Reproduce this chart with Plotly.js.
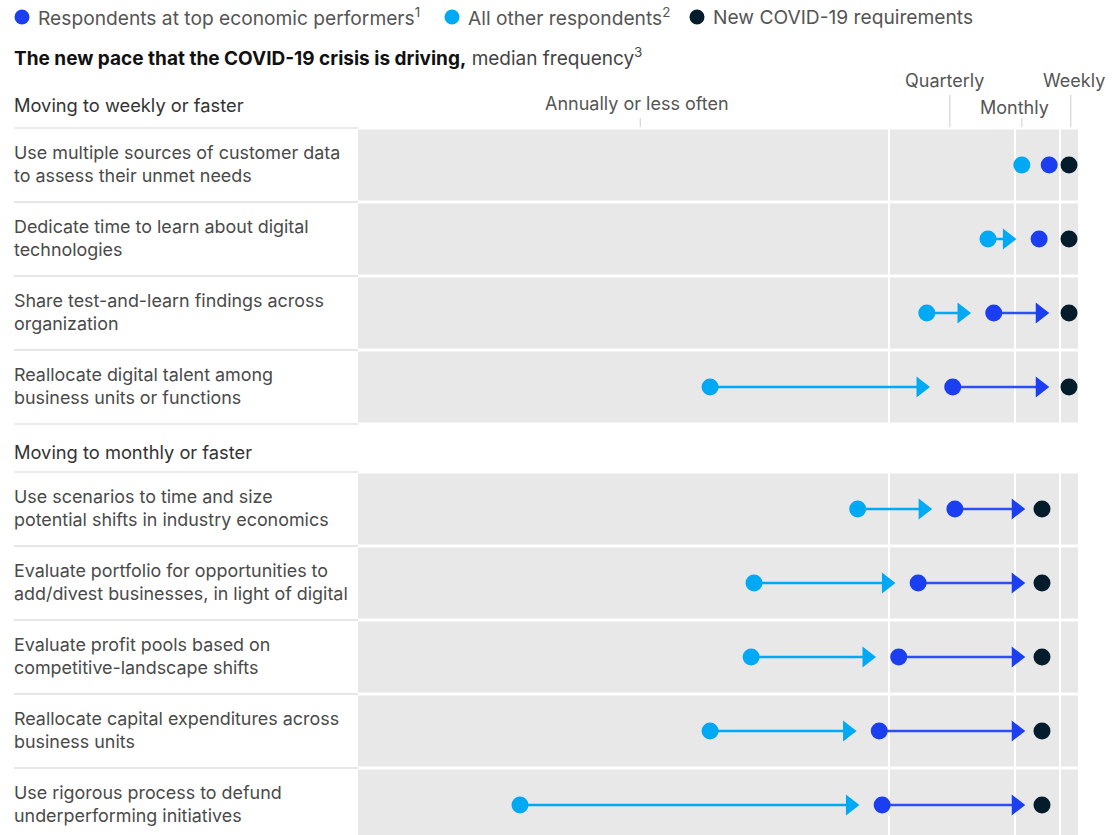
<!DOCTYPE html>
<html><head><meta charset="utf-8">
<script src="https://cdn.plot.ly/plotly-3.0.1.min.js"></script>
<style>html,body{margin:0;padding:0;background:#fff}</style>
</head><body><div id="chart" style="width:1112px;height:835px"></div>
<script>
// ---------------- data ----------------
const sectionTitles = ["Moving to weekly or faster", "Moving to monthly or faster"];
const categories = [
  "Use multiple sources of customer data<br>to assess their unmet needs",
  "Dedicate time to learn about digital<br>technologies",
  "Share test-and-learn findings across<br>organization",
  "Reallocate digital talent among<br>business units or functions",
  "Use scenarios to time and size<br>potential shifts in industry economics",
  "Evaluate portfolio for opportunities to<br>add/divest businesses, in light of digital",
  "Evaluate profit pools based on<br>competitive-landscape shifts",
  "Reallocate capital expenditures across<br>business units",
  "Use rigorous process to defund<br>underperforming initiatives"
];
const sectionOf = [0, 0, 0, 0, 1, 1, 1, 1, 1];
// frequency position (0 = left edge of panel, 100 = right edge)
const allOther = [92.2, 87.5, 79.0, 48.9, 69.4, 55.0, 54.6, 48.9, 22.5];
const topPerf  = [96.0, 94.6, 88.3, 82.6, 82.9, 77.8, 75.1, 72.4, 72.8];
const covidReq = [98.75, 98.75, 98.75, 98.75, 95.0, 95.0, 95.0, 95.0, 95.0];
const freqLabels = ["Annually or less often", "Quarterly", "Monthly", "Weekly"];
const freqPos    = [39.2, 82.2, 92.2, 99.0];
const gridPos    = [73.75, 91.25, 97.5];
const legendNames = ["Respondents at top economic performers<sup>1</sup>", "All other respondents<sup>2</sup>", "New COVID-19 requirements"];

// ---------------- layout constants ----------------
const W = 1112, H = 835;
const panelL = 358, panelR = 1078;
const pxPerUnit = (panelR - panelL) / 100;
const secTop = [128, 472], secHeaderY = [105, 452];
const rowH = [74, 74];
const C_TOP = "#1b3ef0", C_OTHER = "#00a9f4", C_COVID = "#051c2c";
const FONT = "Inter, 'Liberation Sans', Arial, sans-serif";
const FS = 17.9;

const rowIdxInSec = [];
const cnt = [0, 0];
sectionOf.forEach((s, i) => { rowIdxInSec.push(cnt[s]); cnt[s]++; });
const rowTop = sectionOf.map((s, i) => secTop[s] + rowIdxInSec[i] * rowH[s]);
const rowY = rowTop.map((t, i) => t + rowH[sectionOf[i]] / 2);
const secBottom = [0, 1].map(s => secTop[s] + cnt[s] * rowH[s]);

// arrows
const triSize = 18;
const triReach = triSize / 2 * Math.SQRT2 / pxPerUnit; // tip offset from marker centre
const minGap = 5;
function arrows(from, to, gapPx) {
  const lx = [], ly = [], tx = [], ty = [];
  from.forEach((f, i) => {
    if (to[i] - f > minGap) {
      const c = to[i] - gapPx[sectionOf[i]] / pxPerUnit - triReach;
      lx.push(f, c, null); ly.push(rowY[i], rowY[i], null);
      tx.push(c); ty.push(rowY[i]);
    }
  });
  return {lx, ly, tx, ty};
}
const aO = arrows(allOther, topPerf, [19, 19]);
const aT = arrows(topPerf, covidReq, [16, 13]);

const traces = [
  {x: aO.lx, y: aO.ly, mode: "lines", line: {color: C_OTHER, width: 2.5}, hoverinfo: "skip"},
  {x: aT.lx, y: aT.ly, mode: "lines", line: {color: "#2d4ff2", width: 2.5}, hoverinfo: "skip"},
  {x: aO.tx, y: aO.ty, mode: "markers", marker: {symbol: "triangle-right", size: triSize, color: C_OTHER}, hoverinfo: "skip"},
  {x: aT.tx, y: aT.ty, mode: "markers", marker: {symbol: "triangle-right", size: triSize, color: C_TOP}, hoverinfo: "skip"},
  {x: allOther, y: rowY, mode: "markers", name: "All other respondents", marker: {size: 17, color: C_OTHER}},
  {x: topPerf, y: rowY, mode: "markers", name: "Respondents at top economic performers", marker: {size: 17, color: C_TOP}},
  {x: covidReq, y: rowY, mode: "markers", name: "New COVID-19 requirements", marker: {size: 17, color: C_COVID}}
];

const shapes = [];
const annotations = [];
// row bands
rowTop.forEach((t, i) => {
  const h = rowH[sectionOf[i]];
  shapes.push({type: "rect", layer: "below", xref: "x", yref: "y", x0: 0, x1: 100, y0: t + 1.5, y1: t + h - 1.5,
    fillcolor: "#e8e8e8", line: {width: 0}});
  shapes.push({type: "line", layer: "below", xref: "paper", yref: "y", x0: 14 / W, x1: panelL / W, y0: t, y1: t,
    line: {color: "#e4e4e4", width: 1.5}});
  shapes.push({type: "line", layer: "below", xref: "paper", yref: "y", x0: 14 / W, x1: panelL / W, y0: t + h, y1: t + h,
    line: {color: "#e4e4e4", width: 1.5}});
  annotations.push({xref: "paper", yref: "y", x: 14 / W, xshift: -2, y: rowY[i] - 1, xanchor: "left", yanchor: "middle", align: "left",
    text: categories[i], showarrow: false, font: {family: FONT, size: FS, color: "#4a4a4a"}});
});
// vertical grid lines
[0, 1].forEach(s => gridPos.forEach(g => shapes.push({type: "line", layer: "below", xref: "x", yref: "y",
  x0: g, x1: g, y0: secTop[s], y1: secBottom[s], line: {color: "#ffffff", width: 2}})));
// frequency ticks and labels
const tickTop = [118, 95, 118, 95];
const labelY = [103, 80, 107, 80];
freqPos.forEach((p, i) => {
  shapes.push({type: "line", xref: "x", yref: "y", x0: p, x1: p, y0: tickTop[i], y1: secTop[0] - 1,
    line: {color: "#cccccc", width: 1}});
  annotations.push({xref: "x", yref: "y", x: p, y: labelY[i], xanchor: "center", yanchor: "middle",
    xshift: [-3, -5, -7, 3][i], text: freqLabels[i], showarrow: false, font: {family: FONT, size: 18, color: "#555555"}});
});
// section headers
sectionTitles.forEach((t, s) => annotations.push({xref: "paper", yref: "y", x: 14 / W, xshift: -2, y: secHeaderY[s], xanchor: "left",
  yanchor: "middle", text: t, showarrow: false, font: {family: FONT, size: 18.3, color: "#333333"}}));
// subtitle
annotations.push({xref: "paper", yref: "y", x: 14 / W, xshift: -2, y: 57, xanchor: "left", yanchor: "middle", showarrow: false,
  text: "<b>The new pace that the COVID-19 crisis is driving,</b> <span style='color:#444'>median frequency<sup>3</sup></span>",
  font: {family: FONT, size: 19, color: "#111111"}});
// legend
const legX = [22, 452, 697];
const legCol = [C_TOP, C_OTHER, C_COVID];
legX.forEach((lx, i) => {
  shapes.push({type: "circle", xref: "paper", yref: "y", x0: (lx - 7.5) / W, x1: (lx + 7.5) / W, y0: 17 - 7.5, y1: 17 + 7.5,
    fillcolor: legCol[i], line: {width: 0}});
  annotations.push({xref: "paper", yref: "y", x: (lx + 16) / W, xshift: -2, y: 17, xanchor: "left", yanchor: "middle", showarrow: false,
    text: legendNames[i], font: {family: FONT, size: 19.2, color: "#555555"}});
});

const layout = {
  width: W, height: H, margin: {l: 0, r: 0, t: 0, b: 0}, showlegend: false,
  paper_bgcolor: "#ffffff", plot_bgcolor: "rgba(0,0,0,0)",
  xaxis: {domain: [panelL / W, panelR / W], range: [0, 100], visible: false, fixedrange: true},
  yaxis: {domain: [0, 1], range: [H, 0], visible: false, fixedrange: true},
  shapes, annotations
};
Plotly.newPlot("chart", traces, layout, {displayModeBar: false, staticPlot: true});
</script></body></html>
